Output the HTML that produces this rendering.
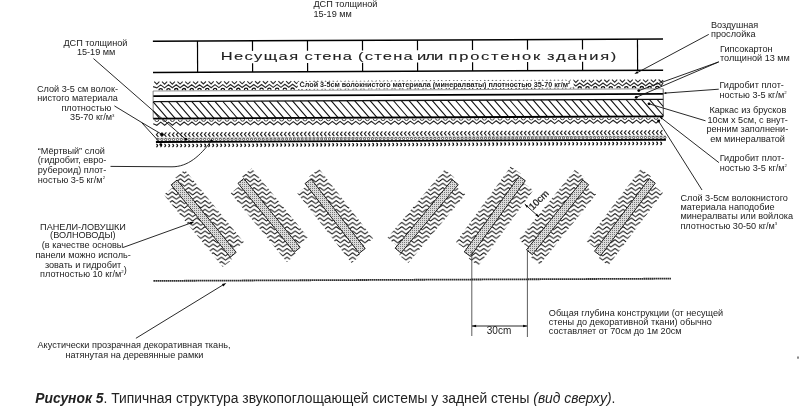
<!DOCTYPE html>
<html><head><meta charset="utf-8"><style>
html,body{margin:0;padding:0;background:#fff}
body{width:800px;height:407px;overflow:hidden}
svg{display:block;will-change:transform}
text{font-family:"Liberation Sans",sans-serif;fill:#222}
</style></head><body>
<svg width="800" height="407" viewBox="0 0 800 407">
<defs>
<pattern id="wave" patternUnits="userSpaceOnUse" x="0" y="0" width="8.2" height="4.35">
<path d="M-4.1 3.6L-0.25 0.7Q0 0.5 0.25 0.7L3.85 3.4Q4.1 3.6 4.35 3.4L7.95 0.7Q8.2 0.5 8.45 0.7L12.3 3.6" fill="none" stroke="#000" stroke-width="1.0"/>
</pattern>
<pattern id="dots" patternUnits="userSpaceOnUse" x="0" y="0" width="2" height="2">
<rect width="2" height="2" fill="#dcdcdc"/><rect width="1" height="1" fill="#777"/>
</pattern>
</defs>
<g transform="rotate(-0.25 408 160)"><line x1="153.4" y1="40.2" x2="663.5" y2="40.2" stroke="#000" stroke-width="1.5"/><line x1="153.4" y1="71.3" x2="663.5" y2="71.3" stroke="#000" stroke-width="1.5"/><line x1="198" y1="40.2" x2="198" y2="71.3" stroke="#000" stroke-width="1.2"/><path d="M253 40.2V50.2M253 62.6V71.3" stroke="#000" stroke-width="1.2"/><path d="M308 40.2V50.2M308 62.6V71.3" stroke="#000" stroke-width="1.2"/><path d="M363 40.2V50.2M363 62.6V71.3" stroke="#000" stroke-width="1.2"/><path d="M418 40.2V50.2M418 62.6V71.3" stroke="#000" stroke-width="1.2"/><path d="M473 40.2V50.2M473 62.6V71.3" stroke="#000" stroke-width="1.2"/><path d="M528 40.2V50.2M528 62.6V71.3" stroke="#000" stroke-width="1.2"/><path d="M583 40.2V50.2M583 62.6V71.3" stroke="#000" stroke-width="1.2"/><line x1="638" y1="40.2" x2="638" y2="71.3" stroke="#000" stroke-width="1.2"/><path d="M154.54 80.6L157.14 83.1L159.74 80.6M162.3 80.6L164.9 83.1L167.5 80.6M170.06 80.6L172.66 83.1L175.26 80.6M177.82 80.6L180.42 83.1L183.02 80.6M185.58 80.6L188.18 83.1L190.78 80.6M193.34 80.6L195.94 83.1L198.54 80.6M201.1 80.6L203.7 83.1L206.3 80.6M208.86 80.6L211.46 83.1L214.06 80.6M216.62 80.6L219.22 83.1L221.82 80.6M224.38 80.6L226.98 83.1L229.58 80.6M232.14 80.6L234.74 83.1L237.34 80.6M239.9 80.6L242.5 83.1L245.1 80.6M247.66 80.6L250.26 83.1L252.86 80.6M255.42 80.6L258.02 83.1L260.62 80.6M263.18 80.6L265.78 83.1L268.38 80.6M270.94 80.6L273.54 83.1L276.14 80.6M278.7 80.6L281.3 83.1L283.9 80.6M286.46 80.6L289.06 83.1L291.66 80.6M294.22 80.6L296.82 83.1L299.42 80.6M301.98 80.6L304.58 83.1L307.18 80.6M309.74 80.6L312.34 83.1L314.94 80.6M317.5 80.6L320.1 83.1L322.7 80.6M325.26 80.6L327.86 83.1L330.46 80.6M333.02 80.6L335.62 83.1L338.22 80.6M340.78 80.6L343.38 83.1L345.98 80.6M348.54 80.6L351.14 83.1L353.74 80.6M356.3 80.6L358.9 83.1L361.5 80.6M364.06 80.6L366.66 83.1L369.26 80.6M371.82 80.6L374.42 83.1L377.02 80.6M379.58 80.6L382.18 83.1L384.78 80.6M387.34 80.6L389.94 83.1L392.54 80.6M395.1 80.6L397.7 83.1L400.3 80.6M402.86 80.6L405.46 83.1L408.06 80.6M410.62 80.6L413.22 83.1L415.82 80.6M418.38 80.6L420.98 83.1L423.58 80.6M426.14 80.6L428.74 83.1L431.34 80.6M433.9 80.6L436.5 83.1L439.1 80.6M441.66 80.6L444.26 83.1L446.86 80.6M449.42 80.6L452.02 83.1L454.62 80.6M457.18 80.6L459.78 83.1L462.38 80.6M464.94 80.6L467.54 83.1L470.14 80.6M472.7 80.6L475.3 83.1L477.9 80.6M480.46 80.6L483.06 83.1L485.66 80.6M488.22 80.6L490.82 83.1L493.42 80.6M495.98 80.6L498.58 83.1L501.18 80.6M503.74 80.6L506.34 83.1L508.94 80.6M511.5 80.6L514.1 83.1L516.7 80.6M519.26 80.6L521.86 83.1L524.46 80.6M527.02 80.6L529.62 83.1L532.22 80.6M534.78 80.6L537.38 83.1L539.98 80.6M542.54 80.6L545.14 83.1L547.74 80.6M550.3 80.6L552.9 83.1L555.5 80.6M558.06 80.6L560.66 83.1L563.26 80.6M565.82 80.6L568.42 83.1L571.02 80.6M573.58 80.6L576.18 83.1L578.78 80.6M581.34 80.6L583.94 83.1L586.54 80.6M589.1 80.6L591.7 83.1L594.3 80.6M596.86 80.6L599.46 83.1L602.06 80.6M604.62 80.6L607.22 83.1L609.82 80.6M612.38 80.6L614.98 83.1L617.58 80.6M620.14 80.6L622.74 83.1L625.34 80.6M627.9 80.6L630.5 83.1L633.1 80.6M635.66 80.6L638.26 83.1L640.86 80.6M643.42 80.6L646.02 83.1L648.62 80.6M651.18 80.6L653.78 83.1L656.38 80.6M658.94 80.6L661.54 83.1L663.5 81.22" fill="none" stroke="#2a2a2a" stroke-width="1.1"/><polyline points="153.4,85.5 157.14,86.8 161.02,83.8 164.9,86.8 168.78,83.8 172.66,86.8 176.54,83.8 180.42,86.8 184.3,83.8 188.18,86.8 192.06,83.8 195.94,86.8 199.82,83.8 203.7,86.8 207.58,83.8 211.46,86.8 215.34,83.8 219.22,86.8 223.1,83.8 226.98,86.8 230.86,83.8 234.74,86.8 238.62,83.8 242.5,86.8 246.38,83.8 250.26,86.8 254.14,83.8 258.02,86.8 261.9,83.8 265.78,86.8 269.66,83.8 273.54,86.8 277.42,83.8 281.3,86.8 285.18,83.8 289.06,86.8 292.94,83.8 296.82,86.8 300.7,83.8 304.58,86.8 308.46,83.8 312.34,86.8 316.22,83.8 320.1,86.8 323.98,83.8 327.86,86.8 331.74,83.8 335.62,86.8 339.5,83.8 343.38,86.8 347.26,83.8 351.14,86.8 355.02,83.8 358.9,86.8 362.78,83.8 366.66,86.8 370.54,83.8 374.42,86.8 378.3,83.8 382.18,86.8 386.06,83.8 389.94,86.8 393.82,83.8 397.7,86.8 401.58,83.8 405.46,86.8 409.34,83.8 413.22,86.8 417.1,83.8 420.98,86.8 424.86,83.8 428.74,86.8 432.62,83.8 436.5,86.8 440.38,83.8 444.26,86.8 448.14,83.8 452.02,86.8 455.9,83.8 459.78,86.8 463.66,83.8 467.54,86.8 471.42,83.8 475.3,86.8 479.18,83.8 483.06,86.8 486.94,83.8 490.82,86.8 494.7,83.8 498.58,86.8 502.46,83.8 506.34,86.8 510.22,83.8 514.1,86.8 517.98,83.8 521.86,86.8 525.74,83.8 529.62,86.8 533.5,83.8 537.38,86.8 541.26,83.8 545.14,86.8 549.02,83.8 552.9,86.8 556.78,83.8 560.66,86.8 564.54,83.8 568.42,86.8 572.3,83.8 576.18,86.8 580.06,83.8 583.94,86.8 587.82,83.8 591.7,86.8 595.58,83.8 599.46,86.8 603.34,83.8 607.22,86.8 611.1,83.8 614.98,86.8 618.86,83.8 622.74,86.8 626.62,83.8 630.5,86.8 634.38,83.8 638.26,86.8 642.14,83.8 646.02,86.8 649.9,83.8 653.78,86.8 657.66,83.8 661.54,86.8 663.5,83.8" fill="none" stroke="#2a2a2a" stroke-width="1.15"/><path d="M159.32 89.2A1.7 1.7 0 0 1 162.72 89.2M167.08 89.2A1.7 1.7 0 0 1 170.48 89.2M174.84 89.2A1.7 1.7 0 0 1 178.24 89.2M182.6 89.2A1.7 1.7 0 0 1 186 89.2M190.36 89.2A1.7 1.7 0 0 1 193.76 89.2M198.12 89.2A1.7 1.7 0 0 1 201.52 89.2M205.88 89.2A1.7 1.7 0 0 1 209.28 89.2M213.64 89.2A1.7 1.7 0 0 1 217.04 89.2M221.4 89.2A1.7 1.7 0 0 1 224.8 89.2M229.16 89.2A1.7 1.7 0 0 1 232.56 89.2M236.92 89.2A1.7 1.7 0 0 1 240.32 89.2M244.68 89.2A1.7 1.7 0 0 1 248.08 89.2M252.44 89.2A1.7 1.7 0 0 1 255.84 89.2M260.2 89.2A1.7 1.7 0 0 1 263.6 89.2M267.96 89.2A1.7 1.7 0 0 1 271.36 89.2M275.72 89.2A1.7 1.7 0 0 1 279.12 89.2M283.48 89.2A1.7 1.7 0 0 1 286.88 89.2M291.24 89.2A1.7 1.7 0 0 1 294.64 89.2M299 89.2A1.7 1.7 0 0 1 302.4 89.2M306.76 89.2A1.7 1.7 0 0 1 310.16 89.2M314.52 89.2A1.7 1.7 0 0 1 317.92 89.2M322.28 89.2A1.7 1.7 0 0 1 325.68 89.2M330.04 89.2A1.7 1.7 0 0 1 333.44 89.2M337.8 89.2A1.7 1.7 0 0 1 341.2 89.2M345.56 89.2A1.7 1.7 0 0 1 348.96 89.2M353.32 89.2A1.7 1.7 0 0 1 356.72 89.2M361.08 89.2A1.7 1.7 0 0 1 364.48 89.2M368.84 89.2A1.7 1.7 0 0 1 372.24 89.2M376.6 89.2A1.7 1.7 0 0 1 380 89.2M384.36 89.2A1.7 1.7 0 0 1 387.76 89.2M392.12 89.2A1.7 1.7 0 0 1 395.52 89.2M399.88 89.2A1.7 1.7 0 0 1 403.28 89.2M407.64 89.2A1.7 1.7 0 0 1 411.04 89.2M415.4 89.2A1.7 1.7 0 0 1 418.8 89.2M423.16 89.2A1.7 1.7 0 0 1 426.56 89.2M430.92 89.2A1.7 1.7 0 0 1 434.32 89.2M438.68 89.2A1.7 1.7 0 0 1 442.08 89.2M446.44 89.2A1.7 1.7 0 0 1 449.84 89.2M454.2 89.2A1.7 1.7 0 0 1 457.6 89.2M461.96 89.2A1.7 1.7 0 0 1 465.36 89.2M469.72 89.2A1.7 1.7 0 0 1 473.12 89.2M477.48 89.2A1.7 1.7 0 0 1 480.88 89.2M485.24 89.2A1.7 1.7 0 0 1 488.64 89.2M493 89.2A1.7 1.7 0 0 1 496.4 89.2M500.76 89.2A1.7 1.7 0 0 1 504.16 89.2M508.52 89.2A1.7 1.7 0 0 1 511.92 89.2M516.28 89.2A1.7 1.7 0 0 1 519.68 89.2M524.04 89.2A1.7 1.7 0 0 1 527.44 89.2M531.8 89.2A1.7 1.7 0 0 1 535.2 89.2M539.56 89.2A1.7 1.7 0 0 1 542.96 89.2M547.32 89.2A1.7 1.7 0 0 1 550.72 89.2M555.08 89.2A1.7 1.7 0 0 1 558.48 89.2M562.84 89.2A1.7 1.7 0 0 1 566.24 89.2M570.6 89.2A1.7 1.7 0 0 1 574 89.2M578.36 89.2A1.7 1.7 0 0 1 581.76 89.2M586.12 89.2A1.7 1.7 0 0 1 589.52 89.2M593.88 89.2A1.7 1.7 0 0 1 597.28 89.2M601.64 89.2A1.7 1.7 0 0 1 605.04 89.2M609.4 89.2A1.7 1.7 0 0 1 612.8 89.2M617.16 89.2A1.7 1.7 0 0 1 620.56 89.2M624.92 89.2A1.7 1.7 0 0 1 628.32 89.2M632.68 89.2A1.7 1.7 0 0 1 636.08 89.2M640.44 89.2A1.7 1.7 0 0 1 643.84 89.2M648.2 89.2A1.7 1.7 0 0 1 651.6 89.2M655.96 89.2A1.7 1.7 0 0 1 659.36 89.2" fill="none" stroke="#111" stroke-width="1.3"/><line x1="153.4" y1="89.9" x2="663.5" y2="89.9" stroke="#777" stroke-width="0.8"/><line x1="153.4" y1="95.0" x2="663.5" y2="95.0" stroke="#000" stroke-width="1.7"/><line x1="153.4" y1="100.45" x2="663.5" y2="100.45" stroke="#111" stroke-width="1.35"/><line x1="663.5" y1="89.9" x2="663.5" y2="117.5" stroke="#444" stroke-width="0.9"/><line x1="153.4" y1="89.9" x2="153.4" y2="117.5" stroke="#666" stroke-width="0.8"/><path d="M153.4 109.78L160.06 117.5M153.4 100.78L167.82 117.5M160.87 100.45L175.57 117.5M168.63 100.45L183.33 117.5M176.39 100.45L191.09 117.5M184.15 100.45L198.85 117.5M191.9 100.45L206.6 117.5M199.66 100.45L214.36 117.5M207.42 100.45L222.12 117.5M215.17 100.45L229.87 117.5M222.93 100.45L237.63 117.5M230.69 100.45L245.39 117.5M238.44 100.45L253.14 117.5M246.2 100.45L260.9 117.5M253.96 100.45L268.66 117.5M261.72 100.45L276.42 117.5M269.47 100.45L284.17 117.5M277.23 100.45L291.93 117.5M284.99 100.45L299.69 117.5M292.74 100.45L307.44 117.5M300.5 100.45L315.2 117.5M308.26 100.45L322.96 117.5M316.01 100.45L330.71 117.5M323.77 100.45L338.47 117.5M331.53 100.45L346.23 117.5M339.29 100.45L353.99 117.5M347.04 100.45L361.74 117.5M354.8 100.45L369.5 117.5M362.56 100.45L377.26 117.5M370.31 100.45L385.01 117.5M378.07 100.45L392.77 117.5M385.83 100.45L400.53 117.5M393.58 100.45L408.28 117.5M401.34 100.45L416.04 117.5M409.1 100.45L423.8 117.5M416.86 100.45L431.56 117.5M424.61 100.45L439.31 117.5M432.37 100.45L447.07 117.5M440.13 100.45L454.83 117.5M447.88 100.45L462.58 117.5M455.64 100.45L470.34 117.5M463.4 100.45L478.1 117.5M471.15 100.45L485.85 117.5M478.91 100.45L493.61 117.5M486.67 100.45L501.37 117.5M494.43 100.45L509.13 117.5M502.18 100.45L516.88 117.5M509.94 100.45L524.64 117.5M517.7 100.45L532.4 117.5M525.45 100.45L540.15 117.5M533.21 100.45L547.91 117.5M540.97 100.45L555.67 117.5M548.72 100.45L563.42 117.5M556.48 100.45L571.18 117.5M564.24 100.45L578.94 117.5M571.99 100.45L586.69 117.5M579.75 100.45L594.45 117.5M587.51 100.45L602.21 117.5M595.27 100.45L609.97 117.5M603.02 100.45L617.72 117.5M610.78 100.45L625.48 117.5M618.54 100.45L633.24 117.5M626.29 100.45L640.99 117.5M634.05 100.45L648.75 117.5M641.81 100.45L656.51 117.5M649.56 100.45L663.5 116.61M657.32 100.45L663.5 107.62" stroke="#111" stroke-width="1.1"/><line x1="153.4" y1="117.5" x2="663.5" y2="117.5" stroke="#000" stroke-width="1.9"/><path d="M155 118.5A2 2 0 0 0 159 118.5M162.8 118.5A2 2 0 0 0 166.8 118.5M170.6 118.5A2 2 0 0 0 174.6 118.5M178.4 118.5A2 2 0 0 0 182.4 118.5M186.2 118.5A2 2 0 0 0 190.2 118.5M194 118.5A2 2 0 0 0 198 118.5M201.8 118.5A2 2 0 0 0 205.8 118.5M209.6 118.5A2 2 0 0 0 213.6 118.5M217.4 118.5A2 2 0 0 0 221.4 118.5M225.2 118.5A2 2 0 0 0 229.2 118.5M233 118.5A2 2 0 0 0 237 118.5M240.8 118.5A2 2 0 0 0 244.8 118.5M248.6 118.5A2 2 0 0 0 252.6 118.5M256.4 118.5A2 2 0 0 0 260.4 118.5M264.2 118.5A2 2 0 0 0 268.2 118.5M272 118.5A2 2 0 0 0 276 118.5M279.8 118.5A2 2 0 0 0 283.8 118.5M287.6 118.5A2 2 0 0 0 291.6 118.5M295.4 118.5A2 2 0 0 0 299.4 118.5M303.2 118.5A2 2 0 0 0 307.2 118.5M311 118.5A2 2 0 0 0 315 118.5M318.8 118.5A2 2 0 0 0 322.8 118.5M326.6 118.5A2 2 0 0 0 330.6 118.5M334.4 118.5A2 2 0 0 0 338.4 118.5M342.2 118.5A2 2 0 0 0 346.2 118.5M350 118.5A2 2 0 0 0 354 118.5M357.8 118.5A2 2 0 0 0 361.8 118.5M365.6 118.5A2 2 0 0 0 369.6 118.5M373.4 118.5A2 2 0 0 0 377.4 118.5M381.2 118.5A2 2 0 0 0 385.2 118.5M389 118.5A2 2 0 0 0 393 118.5M396.8 118.5A2 2 0 0 0 400.8 118.5M404.6 118.5A2 2 0 0 0 408.6 118.5M412.4 118.5A2 2 0 0 0 416.4 118.5M420.2 118.5A2 2 0 0 0 424.2 118.5M428 118.5A2 2 0 0 0 432 118.5M435.8 118.5A2 2 0 0 0 439.8 118.5M443.6 118.5A2 2 0 0 0 447.6 118.5M451.4 118.5A2 2 0 0 0 455.4 118.5M459.2 118.5A2 2 0 0 0 463.2 118.5M467 118.5A2 2 0 0 0 471 118.5M474.8 118.5A2 2 0 0 0 478.8 118.5M482.6 118.5A2 2 0 0 0 486.6 118.5M490.4 118.5A2 2 0 0 0 494.4 118.5M498.2 118.5A2 2 0 0 0 502.2 118.5M506 118.5A2 2 0 0 0 510 118.5M513.8 118.5A2 2 0 0 0 517.8 118.5M521.6 118.5A2 2 0 0 0 525.6 118.5M529.4 118.5A2 2 0 0 0 533.4 118.5M537.2 118.5A2 2 0 0 0 541.2 118.5M545 118.5A2 2 0 0 0 549 118.5M552.8 118.5A2 2 0 0 0 556.8 118.5M560.6 118.5A2 2 0 0 0 564.6 118.5M568.4 118.5A2 2 0 0 0 572.4 118.5M576.2 118.5A2 2 0 0 0 580.2 118.5M584 118.5A2 2 0 0 0 588 118.5M591.8 118.5A2 2 0 0 0 595.8 118.5M599.6 118.5A2 2 0 0 0 603.6 118.5M607.4 118.5A2 2 0 0 0 611.4 118.5M615.2 118.5A2 2 0 0 0 619.2 118.5M623 118.5A2 2 0 0 0 627 118.5M630.8 118.5A2 2 0 0 0 634.8 118.5M638.6 118.5A2 2 0 0 0 642.6 118.5M646.4 118.5A2 2 0 0 0 650.4 118.5M654.2 118.5A2 2 0 0 0 658.2 118.5" fill="none" stroke="#333" stroke-width="0.9"/><polyline points="153.4,122.7 157,124.2 160.9,121.1 164.8,124.2 168.7,121.1 172.6,124.2 176.5,121.1 180.4,124.2 184.3,121.1 188.2,124.2 192.1,121.1 196,124.2 199.9,121.1 203.8,124.2 207.7,121.1 211.6,124.2 215.5,121.1 219.4,124.2 223.3,121.1 227.2,124.2 231.1,121.1 235,124.2 238.9,121.1 242.8,124.2 246.7,121.1 250.6,124.2 254.5,121.1 258.4,124.2 262.3,121.1 266.2,124.2 270.1,121.1 274,124.2 277.9,121.1 281.8,124.2 285.7,121.1 289.6,124.2 293.5,121.1 297.4,124.2 301.3,121.1 305.2,124.2 309.1,121.1 313,124.2 316.9,121.1 320.8,124.2 324.7,121.1 328.6,124.2 332.5,121.1 336.4,124.2 340.3,121.1 344.2,124.2 348.1,121.1 352,124.2 355.9,121.1 359.8,124.2 363.7,121.1 367.6,124.2 371.5,121.1 375.4,124.2 379.3,121.1 383.2,124.2 387.1,121.1 391,124.2 394.9,121.1 398.8,124.2 402.7,121.1 406.6,124.2 410.5,121.1 414.4,124.2 418.3,121.1 422.2,124.2 426.1,121.1 430,124.2 433.9,121.1 437.8,124.2 441.7,121.1 445.6,124.2 449.5,121.1 453.4,124.2 457.3,121.1 461.2,124.2 465.1,121.1 469,124.2 472.9,121.1 476.8,124.2 480.7,121.1 484.6,124.2 488.5,121.1 492.4,124.2 496.3,121.1 500.2,124.2 504.1,121.1 508,124.2 511.9,121.1 515.8,124.2 519.7,121.1 523.6,124.2 527.5,121.1 531.4,124.2 535.3,121.1 539.2,124.2 543.1,121.1 547,124.2 550.9,121.1 554.8,124.2 558.7,121.1 562.6,124.2 566.5,121.1 570.4,124.2 574.3,121.1 578.2,124.2 582.1,121.1 586,124.2 589.9,121.1 593.8,124.2 597.7,121.1 601.6,124.2 605.5,121.1 609.4,124.2 613.3,121.1 617.2,124.2 621.1,121.1 625,124.2 628.9,121.1 632.8,124.2 636.7,121.1 640.6,124.2 644.5,121.1 648.4,124.2 652.3,121.1 656.2,124.2 660.1,121.1" fill="none" stroke="#222" stroke-width="1.1"/><path d="M158.5 131.3L156.5 133.6L158.5 135.9M162.5 131.3L160.5 133.6L162.5 135.9M166.5 131.3L164.5 133.6L166.5 135.9M170.5 131.3L168.5 133.6L170.5 135.9M174.5 131.3L172.5 133.6L174.5 135.9M178.5 131.3L176.5 133.6L178.5 135.9M182.5 131.3L180.5 133.6L182.5 135.9M186.5 131.3L184.5 133.6L186.5 135.9M190.5 131.3L188.5 133.6L190.5 135.9M194.5 131.3L192.5 133.6L194.5 135.9M198.5 131.3L196.5 133.6L198.5 135.9M202.5 131.3L200.5 133.6L202.5 135.9M206.5 131.3L204.5 133.6L206.5 135.9M210.5 131.3L208.5 133.6L210.5 135.9M214.5 131.3L212.5 133.6L214.5 135.9M218.5 131.3L216.5 133.6L218.5 135.9M222.5 131.3L220.5 133.6L222.5 135.9M226.5 131.3L224.5 133.6L226.5 135.9M230.5 131.3L228.5 133.6L230.5 135.9M234.5 131.3L232.5 133.6L234.5 135.9M238.5 131.3L236.5 133.6L238.5 135.9M242.5 131.3L240.5 133.6L242.5 135.9M246.5 131.3L244.5 133.6L246.5 135.9M250.5 131.3L248.5 133.6L250.5 135.9M254.5 131.3L252.5 133.6L254.5 135.9M258.5 131.3L256.5 133.6L258.5 135.9M262.5 131.3L260.5 133.6L262.5 135.9M266.5 131.3L264.5 133.6L266.5 135.9M270.5 131.3L268.5 133.6L270.5 135.9M274.5 131.3L272.5 133.6L274.5 135.9M278.5 131.3L276.5 133.6L278.5 135.9M282.5 131.3L280.5 133.6L282.5 135.9M286.5 131.3L284.5 133.6L286.5 135.9M290.5 131.3L288.5 133.6L290.5 135.9M294.5 131.3L292.5 133.6L294.5 135.9M298.5 131.3L296.5 133.6L298.5 135.9M302.5 131.3L300.5 133.6L302.5 135.9M306.5 131.3L304.5 133.6L306.5 135.9M310.5 131.3L308.5 133.6L310.5 135.9M314.5 131.3L312.5 133.6L314.5 135.9M318.5 131.3L316.5 133.6L318.5 135.9M322.5 131.3L320.5 133.6L322.5 135.9M326.5 131.3L324.5 133.6L326.5 135.9M330.5 131.3L328.5 133.6L330.5 135.9M334.5 131.3L332.5 133.6L334.5 135.9M338.5 131.3L336.5 133.6L338.5 135.9M342.5 131.3L340.5 133.6L342.5 135.9M346.5 131.3L344.5 133.6L346.5 135.9M350.5 131.3L348.5 133.6L350.5 135.9M354.5 131.3L352.5 133.6L354.5 135.9M358.5 131.3L356.5 133.6L358.5 135.9M362.5 131.3L360.5 133.6L362.5 135.9M366.5 131.3L364.5 133.6L366.5 135.9M370.5 131.3L368.5 133.6L370.5 135.9M374.5 131.3L372.5 133.6L374.5 135.9M378.5 131.3L376.5 133.6L378.5 135.9M382.5 131.3L380.5 133.6L382.5 135.9M386.5 131.3L384.5 133.6L386.5 135.9M390.5 131.3L388.5 133.6L390.5 135.9M394.5 131.3L392.5 133.6L394.5 135.9M398.5 131.3L396.5 133.6L398.5 135.9M402.5 131.3L400.5 133.6L402.5 135.9M406.5 131.3L404.5 133.6L406.5 135.9M410.5 131.3L408.5 133.6L410.5 135.9M414.5 131.3L412.5 133.6L414.5 135.9M418.5 131.3L416.5 133.6L418.5 135.9M422.5 131.3L420.5 133.6L422.5 135.9M426.5 131.3L424.5 133.6L426.5 135.9M430.5 131.3L428.5 133.6L430.5 135.9M434.5 131.3L432.5 133.6L434.5 135.9M438.5 131.3L436.5 133.6L438.5 135.9M442.5 131.3L440.5 133.6L442.5 135.9M446.5 131.3L444.5 133.6L446.5 135.9M450.5 131.3L448.5 133.6L450.5 135.9M454.5 131.3L452.5 133.6L454.5 135.9M458.5 131.3L456.5 133.6L458.5 135.9M462.5 131.3L460.5 133.6L462.5 135.9M466.5 131.3L464.5 133.6L466.5 135.9M470.5 131.3L468.5 133.6L470.5 135.9M474.5 131.3L472.5 133.6L474.5 135.9M478.5 131.3L476.5 133.6L478.5 135.9M482.5 131.3L480.5 133.6L482.5 135.9M486.5 131.3L484.5 133.6L486.5 135.9M490.5 131.3L488.5 133.6L490.5 135.9M494.5 131.3L492.5 133.6L494.5 135.9M498.5 131.3L496.5 133.6L498.5 135.9M502.5 131.3L500.5 133.6L502.5 135.9M506.5 131.3L504.5 133.6L506.5 135.9M510.5 131.3L508.5 133.6L510.5 135.9M514.5 131.3L512.5 133.6L514.5 135.9M518.5 131.3L516.5 133.6L518.5 135.9M522.5 131.3L520.5 133.6L522.5 135.9M526.5 131.3L524.5 133.6L526.5 135.9M530.5 131.3L528.5 133.6L530.5 135.9M534.5 131.3L532.5 133.6L534.5 135.9M538.5 131.3L536.5 133.6L538.5 135.9M542.5 131.3L540.5 133.6L542.5 135.9M546.5 131.3L544.5 133.6L546.5 135.9M550.5 131.3L548.5 133.6L550.5 135.9M554.5 131.3L552.5 133.6L554.5 135.9M558.5 131.3L556.5 133.6L558.5 135.9M562.5 131.3L560.5 133.6L562.5 135.9M566.5 131.3L564.5 133.6L566.5 135.9M570.5 131.3L568.5 133.6L570.5 135.9M574.5 131.3L572.5 133.6L574.5 135.9M578.5 131.3L576.5 133.6L578.5 135.9M582.5 131.3L580.5 133.6L582.5 135.9M586.5 131.3L584.5 133.6L586.5 135.9M590.5 131.3L588.5 133.6L590.5 135.9M594.5 131.3L592.5 133.6L594.5 135.9M598.5 131.3L596.5 133.6L598.5 135.9M602.5 131.3L600.5 133.6L602.5 135.9M606.5 131.3L604.5 133.6L606.5 135.9M610.5 131.3L608.5 133.6L610.5 135.9M614.5 131.3L612.5 133.6L614.5 135.9M618.5 131.3L616.5 133.6L618.5 135.9M622.5 131.3L620.5 133.6L622.5 135.9M626.5 131.3L624.5 133.6L626.5 135.9M630.5 131.3L628.5 133.6L630.5 135.9M634.5 131.3L632.5 133.6L634.5 135.9M638.5 131.3L636.5 133.6L638.5 135.9M642.5 131.3L640.5 133.6L642.5 135.9M646.5 131.3L644.5 133.6L646.5 135.9M650.5 131.3L648.5 133.6L650.5 135.9M654.5 131.3L652.5 133.6L654.5 135.9M658.5 131.3L656.5 133.6L658.5 135.9M662.5 131.3L660.5 133.6L662.5 135.9" fill="none" stroke="#222" stroke-width="1.15"/><line x1="156.0" y1="137.2" x2="666.0" y2="137.2" stroke="#777" stroke-width="0.6"/><path d="M156.9 138.6a1.1 1.1 0 1 0 2.2 0a1.1 1.1 0 1 0 -2.2 0M160.8 138.6a1.1 1.1 0 1 0 2.2 0a1.1 1.1 0 1 0 -2.2 0M164.7 138.6a1.1 1.1 0 1 0 2.2 0a1.1 1.1 0 1 0 -2.2 0M168.6 138.6a1.1 1.1 0 1 0 2.2 0a1.1 1.1 0 1 0 -2.2 0M172.5 138.6a1.1 1.1 0 1 0 2.2 0a1.1 1.1 0 1 0 -2.2 0M176.4 138.6a1.1 1.1 0 1 0 2.2 0a1.1 1.1 0 1 0 -2.2 0M180.3 138.6a1.1 1.1 0 1 0 2.2 0a1.1 1.1 0 1 0 -2.2 0M184.2 138.6a1.1 1.1 0 1 0 2.2 0a1.1 1.1 0 1 0 -2.2 0M188.1 138.6a1.1 1.1 0 1 0 2.2 0a1.1 1.1 0 1 0 -2.2 0M192 138.6a1.1 1.1 0 1 0 2.2 0a1.1 1.1 0 1 0 -2.2 0M195.9 138.6a1.1 1.1 0 1 0 2.2 0a1.1 1.1 0 1 0 -2.2 0M199.8 138.6a1.1 1.1 0 1 0 2.2 0a1.1 1.1 0 1 0 -2.2 0M203.7 138.6a1.1 1.1 0 1 0 2.2 0a1.1 1.1 0 1 0 -2.2 0M207.6 138.6a1.1 1.1 0 1 0 2.2 0a1.1 1.1 0 1 0 -2.2 0M211.5 138.6a1.1 1.1 0 1 0 2.2 0a1.1 1.1 0 1 0 -2.2 0M215.4 138.6a1.1 1.1 0 1 0 2.2 0a1.1 1.1 0 1 0 -2.2 0M219.3 138.6a1.1 1.1 0 1 0 2.2 0a1.1 1.1 0 1 0 -2.2 0M223.2 138.6a1.1 1.1 0 1 0 2.2 0a1.1 1.1 0 1 0 -2.2 0M227.1 138.6a1.1 1.1 0 1 0 2.2 0a1.1 1.1 0 1 0 -2.2 0M231 138.6a1.1 1.1 0 1 0 2.2 0a1.1 1.1 0 1 0 -2.2 0M234.9 138.6a1.1 1.1 0 1 0 2.2 0a1.1 1.1 0 1 0 -2.2 0M238.8 138.6a1.1 1.1 0 1 0 2.2 0a1.1 1.1 0 1 0 -2.2 0M242.7 138.6a1.1 1.1 0 1 0 2.2 0a1.1 1.1 0 1 0 -2.2 0M246.6 138.6a1.1 1.1 0 1 0 2.2 0a1.1 1.1 0 1 0 -2.2 0M250.5 138.6a1.1 1.1 0 1 0 2.2 0a1.1 1.1 0 1 0 -2.2 0M254.4 138.6a1.1 1.1 0 1 0 2.2 0a1.1 1.1 0 1 0 -2.2 0M258.3 138.6a1.1 1.1 0 1 0 2.2 0a1.1 1.1 0 1 0 -2.2 0M262.2 138.6a1.1 1.1 0 1 0 2.2 0a1.1 1.1 0 1 0 -2.2 0M266.1 138.6a1.1 1.1 0 1 0 2.2 0a1.1 1.1 0 1 0 -2.2 0M270 138.6a1.1 1.1 0 1 0 2.2 0a1.1 1.1 0 1 0 -2.2 0M273.9 138.6a1.1 1.1 0 1 0 2.2 0a1.1 1.1 0 1 0 -2.2 0M277.8 138.6a1.1 1.1 0 1 0 2.2 0a1.1 1.1 0 1 0 -2.2 0M281.7 138.6a1.1 1.1 0 1 0 2.2 0a1.1 1.1 0 1 0 -2.2 0M285.6 138.6a1.1 1.1 0 1 0 2.2 0a1.1 1.1 0 1 0 -2.2 0M289.5 138.6a1.1 1.1 0 1 0 2.2 0a1.1 1.1 0 1 0 -2.2 0M293.4 138.6a1.1 1.1 0 1 0 2.2 0a1.1 1.1 0 1 0 -2.2 0M297.3 138.6a1.1 1.1 0 1 0 2.2 0a1.1 1.1 0 1 0 -2.2 0M301.2 138.6a1.1 1.1 0 1 0 2.2 0a1.1 1.1 0 1 0 -2.2 0M305.1 138.6a1.1 1.1 0 1 0 2.2 0a1.1 1.1 0 1 0 -2.2 0M309 138.6a1.1 1.1 0 1 0 2.2 0a1.1 1.1 0 1 0 -2.2 0M312.9 138.6a1.1 1.1 0 1 0 2.2 0a1.1 1.1 0 1 0 -2.2 0M316.8 138.6a1.1 1.1 0 1 0 2.2 0a1.1 1.1 0 1 0 -2.2 0M320.7 138.6a1.1 1.1 0 1 0 2.2 0a1.1 1.1 0 1 0 -2.2 0M324.6 138.6a1.1 1.1 0 1 0 2.2 0a1.1 1.1 0 1 0 -2.2 0M328.5 138.6a1.1 1.1 0 1 0 2.2 0a1.1 1.1 0 1 0 -2.2 0M332.4 138.6a1.1 1.1 0 1 0 2.2 0a1.1 1.1 0 1 0 -2.2 0M336.3 138.6a1.1 1.1 0 1 0 2.2 0a1.1 1.1 0 1 0 -2.2 0M340.2 138.6a1.1 1.1 0 1 0 2.2 0a1.1 1.1 0 1 0 -2.2 0M344.1 138.6a1.1 1.1 0 1 0 2.2 0a1.1 1.1 0 1 0 -2.2 0M348 138.6a1.1 1.1 0 1 0 2.2 0a1.1 1.1 0 1 0 -2.2 0M351.9 138.6a1.1 1.1 0 1 0 2.2 0a1.1 1.1 0 1 0 -2.2 0M355.8 138.6a1.1 1.1 0 1 0 2.2 0a1.1 1.1 0 1 0 -2.2 0M359.7 138.6a1.1 1.1 0 1 0 2.2 0a1.1 1.1 0 1 0 -2.2 0M363.6 138.6a1.1 1.1 0 1 0 2.2 0a1.1 1.1 0 1 0 -2.2 0M367.5 138.6a1.1 1.1 0 1 0 2.2 0a1.1 1.1 0 1 0 -2.2 0M371.4 138.6a1.1 1.1 0 1 0 2.2 0a1.1 1.1 0 1 0 -2.2 0M375.3 138.6a1.1 1.1 0 1 0 2.2 0a1.1 1.1 0 1 0 -2.2 0M379.2 138.6a1.1 1.1 0 1 0 2.2 0a1.1 1.1 0 1 0 -2.2 0M383.1 138.6a1.1 1.1 0 1 0 2.2 0a1.1 1.1 0 1 0 -2.2 0M387 138.6a1.1 1.1 0 1 0 2.2 0a1.1 1.1 0 1 0 -2.2 0M390.9 138.6a1.1 1.1 0 1 0 2.2 0a1.1 1.1 0 1 0 -2.2 0M394.8 138.6a1.1 1.1 0 1 0 2.2 0a1.1 1.1 0 1 0 -2.2 0M398.7 138.6a1.1 1.1 0 1 0 2.2 0a1.1 1.1 0 1 0 -2.2 0M402.6 138.6a1.1 1.1 0 1 0 2.2 0a1.1 1.1 0 1 0 -2.2 0M406.5 138.6a1.1 1.1 0 1 0 2.2 0a1.1 1.1 0 1 0 -2.2 0M410.4 138.6a1.1 1.1 0 1 0 2.2 0a1.1 1.1 0 1 0 -2.2 0M414.3 138.6a1.1 1.1 0 1 0 2.2 0a1.1 1.1 0 1 0 -2.2 0M418.2 138.6a1.1 1.1 0 1 0 2.2 0a1.1 1.1 0 1 0 -2.2 0M422.1 138.6a1.1 1.1 0 1 0 2.2 0a1.1 1.1 0 1 0 -2.2 0M426 138.6a1.1 1.1 0 1 0 2.2 0a1.1 1.1 0 1 0 -2.2 0M429.9 138.6a1.1 1.1 0 1 0 2.2 0a1.1 1.1 0 1 0 -2.2 0M433.8 138.6a1.1 1.1 0 1 0 2.2 0a1.1 1.1 0 1 0 -2.2 0M437.7 138.6a1.1 1.1 0 1 0 2.2 0a1.1 1.1 0 1 0 -2.2 0M441.6 138.6a1.1 1.1 0 1 0 2.2 0a1.1 1.1 0 1 0 -2.2 0M445.5 138.6a1.1 1.1 0 1 0 2.2 0a1.1 1.1 0 1 0 -2.2 0M449.4 138.6a1.1 1.1 0 1 0 2.2 0a1.1 1.1 0 1 0 -2.2 0M453.3 138.6a1.1 1.1 0 1 0 2.2 0a1.1 1.1 0 1 0 -2.2 0M457.2 138.6a1.1 1.1 0 1 0 2.2 0a1.1 1.1 0 1 0 -2.2 0M461.1 138.6a1.1 1.1 0 1 0 2.2 0a1.1 1.1 0 1 0 -2.2 0M465 138.6a1.1 1.1 0 1 0 2.2 0a1.1 1.1 0 1 0 -2.2 0M468.9 138.6a1.1 1.1 0 1 0 2.2 0a1.1 1.1 0 1 0 -2.2 0M472.8 138.6a1.1 1.1 0 1 0 2.2 0a1.1 1.1 0 1 0 -2.2 0M476.7 138.6a1.1 1.1 0 1 0 2.2 0a1.1 1.1 0 1 0 -2.2 0M480.6 138.6a1.1 1.1 0 1 0 2.2 0a1.1 1.1 0 1 0 -2.2 0M484.5 138.6a1.1 1.1 0 1 0 2.2 0a1.1 1.1 0 1 0 -2.2 0M488.4 138.6a1.1 1.1 0 1 0 2.2 0a1.1 1.1 0 1 0 -2.2 0M492.3 138.6a1.1 1.1 0 1 0 2.2 0a1.1 1.1 0 1 0 -2.2 0M496.2 138.6a1.1 1.1 0 1 0 2.2 0a1.1 1.1 0 1 0 -2.2 0M500.1 138.6a1.1 1.1 0 1 0 2.2 0a1.1 1.1 0 1 0 -2.2 0M504 138.6a1.1 1.1 0 1 0 2.2 0a1.1 1.1 0 1 0 -2.2 0M507.9 138.6a1.1 1.1 0 1 0 2.2 0a1.1 1.1 0 1 0 -2.2 0M511.8 138.6a1.1 1.1 0 1 0 2.2 0a1.1 1.1 0 1 0 -2.2 0M515.7 138.6a1.1 1.1 0 1 0 2.2 0a1.1 1.1 0 1 0 -2.2 0M519.6 138.6a1.1 1.1 0 1 0 2.2 0a1.1 1.1 0 1 0 -2.2 0M523.5 138.6a1.1 1.1 0 1 0 2.2 0a1.1 1.1 0 1 0 -2.2 0M527.4 138.6a1.1 1.1 0 1 0 2.2 0a1.1 1.1 0 1 0 -2.2 0M531.3 138.6a1.1 1.1 0 1 0 2.2 0a1.1 1.1 0 1 0 -2.2 0M535.2 138.6a1.1 1.1 0 1 0 2.2 0a1.1 1.1 0 1 0 -2.2 0M539.1 138.6a1.1 1.1 0 1 0 2.2 0a1.1 1.1 0 1 0 -2.2 0M543 138.6a1.1 1.1 0 1 0 2.2 0a1.1 1.1 0 1 0 -2.2 0M546.9 138.6a1.1 1.1 0 1 0 2.2 0a1.1 1.1 0 1 0 -2.2 0M550.8 138.6a1.1 1.1 0 1 0 2.2 0a1.1 1.1 0 1 0 -2.2 0M554.7 138.6a1.1 1.1 0 1 0 2.2 0a1.1 1.1 0 1 0 -2.2 0M558.6 138.6a1.1 1.1 0 1 0 2.2 0a1.1 1.1 0 1 0 -2.2 0M562.5 138.6a1.1 1.1 0 1 0 2.2 0a1.1 1.1 0 1 0 -2.2 0M566.4 138.6a1.1 1.1 0 1 0 2.2 0a1.1 1.1 0 1 0 -2.2 0M570.3 138.6a1.1 1.1 0 1 0 2.2 0a1.1 1.1 0 1 0 -2.2 0M574.2 138.6a1.1 1.1 0 1 0 2.2 0a1.1 1.1 0 1 0 -2.2 0M578.1 138.6a1.1 1.1 0 1 0 2.2 0a1.1 1.1 0 1 0 -2.2 0M582 138.6a1.1 1.1 0 1 0 2.2 0a1.1 1.1 0 1 0 -2.2 0M585.9 138.6a1.1 1.1 0 1 0 2.2 0a1.1 1.1 0 1 0 -2.2 0M589.8 138.6a1.1 1.1 0 1 0 2.2 0a1.1 1.1 0 1 0 -2.2 0M593.7 138.6a1.1 1.1 0 1 0 2.2 0a1.1 1.1 0 1 0 -2.2 0M597.6 138.6a1.1 1.1 0 1 0 2.2 0a1.1 1.1 0 1 0 -2.2 0M601.5 138.6a1.1 1.1 0 1 0 2.2 0a1.1 1.1 0 1 0 -2.2 0M605.4 138.6a1.1 1.1 0 1 0 2.2 0a1.1 1.1 0 1 0 -2.2 0M609.3 138.6a1.1 1.1 0 1 0 2.2 0a1.1 1.1 0 1 0 -2.2 0M613.2 138.6a1.1 1.1 0 1 0 2.2 0a1.1 1.1 0 1 0 -2.2 0M617.1 138.6a1.1 1.1 0 1 0 2.2 0a1.1 1.1 0 1 0 -2.2 0M621 138.6a1.1 1.1 0 1 0 2.2 0a1.1 1.1 0 1 0 -2.2 0M624.9 138.6a1.1 1.1 0 1 0 2.2 0a1.1 1.1 0 1 0 -2.2 0M628.8 138.6a1.1 1.1 0 1 0 2.2 0a1.1 1.1 0 1 0 -2.2 0M632.7 138.6a1.1 1.1 0 1 0 2.2 0a1.1 1.1 0 1 0 -2.2 0M636.6 138.6a1.1 1.1 0 1 0 2.2 0a1.1 1.1 0 1 0 -2.2 0M640.5 138.6a1.1 1.1 0 1 0 2.2 0a1.1 1.1 0 1 0 -2.2 0M644.4 138.6a1.1 1.1 0 1 0 2.2 0a1.1 1.1 0 1 0 -2.2 0M648.3 138.6a1.1 1.1 0 1 0 2.2 0a1.1 1.1 0 1 0 -2.2 0M652.2 138.6a1.1 1.1 0 1 0 2.2 0a1.1 1.1 0 1 0 -2.2 0M656.1 138.6a1.1 1.1 0 1 0 2.2 0a1.1 1.1 0 1 0 -2.2 0M660 138.6a1.1 1.1 0 1 0 2.2 0a1.1 1.1 0 1 0 -2.2 0M663.9 138.6a1.1 1.1 0 1 0 2.2 0a1.1 1.1 0 1 0 -2.2 0" fill="none" stroke="#333" stroke-width="0.8"/><line x1="156.0" y1="140.9" x2="666.0" y2="140.9" stroke="#000" stroke-width="1.8"/><path d="M156.5 143.0Q158.8 144.5 156.5 146.0M160.5 143.0Q162.8 144.5 160.5 146.0M164.5 143.0Q166.8 144.5 164.5 146.0M168.5 143.0Q170.8 144.5 168.5 146.0M172.5 143.0Q174.8 144.5 172.5 146.0M176.5 143.0Q178.8 144.5 176.5 146.0M180.5 143.0Q182.8 144.5 180.5 146.0M184.5 143.0Q186.8 144.5 184.5 146.0M188.5 143.0Q190.8 144.5 188.5 146.0M192.5 143.0Q194.8 144.5 192.5 146.0M196.5 143.0Q198.8 144.5 196.5 146.0M200.5 143.0Q202.8 144.5 200.5 146.0M204.5 143.0Q206.8 144.5 204.5 146.0M208.5 143.0Q210.8 144.5 208.5 146.0M212.5 143.0Q214.8 144.5 212.5 146.0M216.5 143.0Q218.8 144.5 216.5 146.0M220.5 143.0Q222.8 144.5 220.5 146.0M224.5 143.0Q226.8 144.5 224.5 146.0M228.5 143.0Q230.8 144.5 228.5 146.0M232.5 143.0Q234.8 144.5 232.5 146.0M236.5 143.0Q238.8 144.5 236.5 146.0M240.5 143.0Q242.8 144.5 240.5 146.0M244.5 143.0Q246.8 144.5 244.5 146.0M248.5 143.0Q250.8 144.5 248.5 146.0M252.5 143.0Q254.8 144.5 252.5 146.0M256.5 143.0Q258.8 144.5 256.5 146.0M260.5 143.0Q262.8 144.5 260.5 146.0M264.5 143.0Q266.8 144.5 264.5 146.0M268.5 143.0Q270.8 144.5 268.5 146.0M272.5 143.0Q274.8 144.5 272.5 146.0M276.5 143.0Q278.8 144.5 276.5 146.0M280.5 143.0Q282.8 144.5 280.5 146.0M284.5 143.0Q286.8 144.5 284.5 146.0M288.5 143.0Q290.8 144.5 288.5 146.0M292.5 143.0Q294.8 144.5 292.5 146.0M296.5 143.0Q298.8 144.5 296.5 146.0M300.5 143.0Q302.8 144.5 300.5 146.0M304.5 143.0Q306.8 144.5 304.5 146.0M308.5 143.0Q310.8 144.5 308.5 146.0M312.5 143.0Q314.8 144.5 312.5 146.0M316.5 143.0Q318.8 144.5 316.5 146.0M320.5 143.0Q322.8 144.5 320.5 146.0M324.5 143.0Q326.8 144.5 324.5 146.0M328.5 143.0Q330.8 144.5 328.5 146.0M332.5 143.0Q334.8 144.5 332.5 146.0M336.5 143.0Q338.8 144.5 336.5 146.0M340.5 143.0Q342.8 144.5 340.5 146.0M344.5 143.0Q346.8 144.5 344.5 146.0M348.5 143.0Q350.8 144.5 348.5 146.0M352.5 143.0Q354.8 144.5 352.5 146.0M356.5 143.0Q358.8 144.5 356.5 146.0M360.5 143.0Q362.8 144.5 360.5 146.0M364.5 143.0Q366.8 144.5 364.5 146.0M368.5 143.0Q370.8 144.5 368.5 146.0M372.5 143.0Q374.8 144.5 372.5 146.0M376.5 143.0Q378.8 144.5 376.5 146.0M380.5 143.0Q382.8 144.5 380.5 146.0M384.5 143.0Q386.8 144.5 384.5 146.0M388.5 143.0Q390.8 144.5 388.5 146.0M392.5 143.0Q394.8 144.5 392.5 146.0M396.5 143.0Q398.8 144.5 396.5 146.0M400.5 143.0Q402.8 144.5 400.5 146.0M404.5 143.0Q406.8 144.5 404.5 146.0M408.5 143.0Q410.8 144.5 408.5 146.0M412.5 143.0Q414.8 144.5 412.5 146.0M416.5 143.0Q418.8 144.5 416.5 146.0M420.5 143.0Q422.8 144.5 420.5 146.0M424.5 143.0Q426.8 144.5 424.5 146.0M428.5 143.0Q430.8 144.5 428.5 146.0M432.5 143.0Q434.8 144.5 432.5 146.0M436.5 143.0Q438.8 144.5 436.5 146.0M440.5 143.0Q442.8 144.5 440.5 146.0M444.5 143.0Q446.8 144.5 444.5 146.0M448.5 143.0Q450.8 144.5 448.5 146.0M452.5 143.0Q454.8 144.5 452.5 146.0M456.5 143.0Q458.8 144.5 456.5 146.0M460.5 143.0Q462.8 144.5 460.5 146.0M464.5 143.0Q466.8 144.5 464.5 146.0M468.5 143.0Q470.8 144.5 468.5 146.0M472.5 143.0Q474.8 144.5 472.5 146.0M476.5 143.0Q478.8 144.5 476.5 146.0M480.5 143.0Q482.8 144.5 480.5 146.0M484.5 143.0Q486.8 144.5 484.5 146.0M488.5 143.0Q490.8 144.5 488.5 146.0M492.5 143.0Q494.8 144.5 492.5 146.0M496.5 143.0Q498.8 144.5 496.5 146.0M500.5 143.0Q502.8 144.5 500.5 146.0M504.5 143.0Q506.8 144.5 504.5 146.0M508.5 143.0Q510.8 144.5 508.5 146.0M512.5 143.0Q514.8 144.5 512.5 146.0M516.5 143.0Q518.8 144.5 516.5 146.0M520.5 143.0Q522.8 144.5 520.5 146.0M524.5 143.0Q526.8 144.5 524.5 146.0M528.5 143.0Q530.8 144.5 528.5 146.0M532.5 143.0Q534.8 144.5 532.5 146.0M536.5 143.0Q538.8 144.5 536.5 146.0M540.5 143.0Q542.8 144.5 540.5 146.0M544.5 143.0Q546.8 144.5 544.5 146.0M548.5 143.0Q550.8 144.5 548.5 146.0M552.5 143.0Q554.8 144.5 552.5 146.0M556.5 143.0Q558.8 144.5 556.5 146.0M560.5 143.0Q562.8 144.5 560.5 146.0M564.5 143.0Q566.8 144.5 564.5 146.0M568.5 143.0Q570.8 144.5 568.5 146.0M572.5 143.0Q574.8 144.5 572.5 146.0M576.5 143.0Q578.8 144.5 576.5 146.0M580.5 143.0Q582.8 144.5 580.5 146.0M584.5 143.0Q586.8 144.5 584.5 146.0M588.5 143.0Q590.8 144.5 588.5 146.0M592.5 143.0Q594.8 144.5 592.5 146.0M596.5 143.0Q598.8 144.5 596.5 146.0M600.5 143.0Q602.8 144.5 600.5 146.0M604.5 143.0Q606.8 144.5 604.5 146.0M608.5 143.0Q610.8 144.5 608.5 146.0M612.5 143.0Q614.8 144.5 612.5 146.0M616.5 143.0Q618.8 144.5 616.5 146.0M620.5 143.0Q622.8 144.5 620.5 146.0M624.5 143.0Q626.8 144.5 624.5 146.0M628.5 143.0Q630.8 144.5 628.5 146.0M632.5 143.0Q634.8 144.5 632.5 146.0M636.5 143.0Q638.8 144.5 636.5 146.0M640.5 143.0Q642.8 144.5 640.5 146.0M644.5 143.0Q646.8 144.5 644.5 146.0M648.5 143.0Q650.8 144.5 648.5 146.0M652.5 143.0Q654.8 144.5 652.5 146.0M656.5 143.0Q658.8 144.5 656.5 146.0M660.5 143.0Q662.8 144.5 660.5 146.0" fill="none" stroke="#111" stroke-width="1.3"/><line x1="153" y1="279.8" x2="671" y2="279.8" stroke="#000" stroke-width="1.8" stroke-dasharray="1.3 0.7"/></g><text transform="translate(220.7 60) scale(1.42 1)" font-size="11.6" textLength="54.49" lengthAdjust="spacing" fill="#111" stroke="#111" stroke-width="0.1">Несущая</text><text transform="translate(304.6 60) scale(1.42 1)" font-size="11.6" textLength="33.29" lengthAdjust="spacing" fill="#111" stroke="#111" stroke-width="0.1">стена</text><text transform="translate(357.9 60) scale(1.42 1)" font-size="11.6" textLength="38.65" lengthAdjust="spacing" fill="#111" stroke="#111" stroke-width="0.1">(стена</text><text transform="translate(417 60) scale(1.42 1)" font-size="11.6" textLength="18.44" lengthAdjust="spacing" fill="#111" stroke="#111" stroke-width="0.1">или</text><text transform="translate(448.5 60) scale(1.42 1)" font-size="11.6" textLength="64.63" lengthAdjust="spacing" fill="#111" stroke="#111" stroke-width="0.1">простенок</text><text transform="translate(546.9 60) scale(1.42 1)" font-size="11.6" textLength="48.93" lengthAdjust="spacing" fill="#111" stroke="#111" stroke-width="0.1">здания)</text><rect x="298" y="81.2" width="276" height="7.2" fill="#fff" transform="rotate(-0.25 408 160)"/><text x="299.6" y="87" font-size="7.2" font-weight="700" fill="#111">Слой 3-5см волокнистого материала (минералваты) плотностью 35-70 кг/м<tspan font-size="4" dy="-3">2</tspan></text><polygon points="175.14,177.72 184.82,169.81 243.95,242.15 234.28,250.06" fill="url(#wave)"/><polygon points="173.06,187.18 163.77,194.77 222.9,267.11 232.19,259.51" fill="url(#wave)"/><polygon points="171.16,184.86 177.04,180.04 236.17,252.38 230.29,257.19" fill="url(#dots)" stroke="#111" stroke-width="0.95"/><polygon points="241.99,176.17 251.67,168.26 307.96,237.15 298.28,245.06" fill="url(#wave)"/><polygon points="239.91,185.63 230.61,193.22 286.89,262.11 296.19,254.51" fill="url(#wave)"/><polygon points="238.01,183.3 243.89,178.5 300.17,247.38 294.29,252.19" fill="url(#dots)" stroke="#111" stroke-width="0.95"/><polygon points="309.21,176.5 319.09,168.83 373.22,238.56 363.34,246.22" fill="url(#wave)"/><polygon points="306.89,185.9 297.41,193.26 351.54,262.98 361.02,255.62" fill="url(#wave)"/><polygon points="305.05,183.53 311.05,178.87 365.18,248.59 359.18,253.26" fill="url(#dots)" stroke="#111" stroke-width="0.95"/><polygon points="454.31,177.41 444.72,169.39 387.47,237.86 397.06,245.88" fill="url(#wave)"/><polygon points="456.29,186.89 465.5,194.59 408.24,263.05 399.04,255.36" fill="url(#wave)"/><polygon points="458.22,184.59 452.38,179.71 395.13,248.18 400.96,253.06" fill="url(#dots)" stroke="#111" stroke-width="0.95"/><polygon points="520.88,173.79 510.76,166.46 455.94,242.19 466.07,249.52" fill="url(#wave)"/><polygon points="523.52,183.11 533.24,190.14 478.42,265.87 468.7,258.83" fill="url(#wave)"/><polygon points="525.28,180.68 519.12,176.22 464.31,251.95 470.46,256.4" fill="url(#dots)" stroke="#111" stroke-width="0.95"/><polygon points="584.57,177.63 574.83,169.8 518.61,239.69 528.35,247.53" fill="url(#wave)"/><polygon points="586.73,187.07 596.08,194.59 539.87,264.49 530.51,256.97" fill="url(#wave)"/><polygon points="588.61,184.73 582.69,179.97 526.47,249.87 532.39,254.63" fill="url(#dots)" stroke="#111" stroke-width="0.95"/><polygon points="650.97,176.17 640.97,168.66 586.32,241.36 596.31,248.87" fill="url(#wave)"/><polygon points="653.43,185.53 663.03,192.74 608.37,265.44 598.78,258.23" fill="url(#wave)"/><polygon points="655.24,183.13 649.16,178.57 594.51,251.26 600.59,255.83" fill="url(#dots)" stroke="#111" stroke-width="0.95"/><line x1="93.5" y1="58.6" x2="186" y2="139.5" stroke="#111" stroke-width="0.9"/><circle cx="186" cy="139.3" r="1.3" fill="#000"/><line x1="114.4" y1="105.9" x2="141.4" y2="122.3" stroke="#111" stroke-width="0.9"/><line x1="141.4" y1="122.3" x2="162.3" y2="134.6" stroke="#111" stroke-width="0.9"/><circle cx="162.3" cy="134.4" r="1.5" fill="#000"/><line x1="141.4" y1="122.3" x2="158" y2="140.5" stroke="#111" stroke-width="0.9"/><circle cx="160.8" cy="144.6" r="1.4" fill="#000"/><path d="M110.5 166.4L172 166.8C188 166.8 200 156 211.4 140.8" fill="none" stroke="#111" stroke-width="0.9"/><circle cx="211.4" cy="140.8" r="1.2" fill="#000"/><line x1="123" y1="247.5" x2="192" y2="222.6" stroke="#111" stroke-width="0.9"/><polygon points="194.4,221.8 190.81,224.51 189.9,222" fill="#000"/><line x1="135.9" y1="338.3" x2="224" y2="284.3" stroke="#111" stroke-width="0.9"/><polygon points="226.3,283 223.33,286.38 221.94,284.11" fill="#000"/><line x1="708.75" y1="34.4" x2="637" y2="72.8" stroke="#111" stroke-width="0.9"/><polygon points="634.4,73.9 637.22,71.06 638.33,73.15" fill="#000"/><line x1="718.75" y1="61.9" x2="638.75" y2="90.6" stroke="#111" stroke-width="0.9"/><circle cx="638.75" cy="90.6" r="1.4" fill="#000"/><line x1="718.75" y1="61.9" x2="636.25" y2="97.3" stroke="#111" stroke-width="0.9"/><circle cx="636.25" cy="97.3" r="1.4" fill="#000"/><line x1="718.75" y1="89.2" x2="665" y2="93.1" stroke="#111" stroke-width="0.9"/><polygon points="663,93.3 666.26,92.02 666.41,94.09" fill="#000"/><line x1="705.5" y1="120.8" x2="649" y2="103.8" stroke="#111" stroke-width="0.9"/><circle cx="649" cy="103.8" r="1.4" fill="#000"/><line x1="718.9" y1="162.6" x2="660.5" y2="117.3" stroke="#111" stroke-width="0.9"/><polygon points="659.5,116.6 662.78,117.83 661.51,119.47" fill="#000"/><line x1="702" y1="190" x2="658.5" y2="121" stroke="#111" stroke-width="0.9"/><circle cx="658.5" cy="121" r="1.4" fill="#000"/><line x1="524.8" y1="204.2" x2="539" y2="217" stroke="#111" stroke-width="0.9"/><polygon points="524.8,204.2 528.43,205.88 526.85,207.64" fill="#000"/><polygon points="539,217 535.37,215.32 536.95,213.56" fill="#000"/><text transform="translate(532.8 210.6) rotate(-45)" font-size="9.6" fill="#111" stroke="#111" stroke-width="0.25">10cm</text><line x1="471.8" y1="251" x2="471.8" y2="336" stroke="#333" stroke-width="0.8"/><line x1="527.4" y1="251" x2="527.4" y2="337" stroke="#333" stroke-width="0.8"/><line x1="472" y1="326" x2="527" y2="326" stroke="#111" stroke-width="0.9"/><polygon points="471.8,326 476.1,324.67 476.1,327.33" fill="#000"/><polygon points="527.4,326 523.1,327.33 523.1,324.67" fill="#000"/><text x="486.8" y="334.2" font-size="10" fill="#111">30cm</text><rect x="797" y="356.5" width="2" height="2.2" fill="#888"/><text x="313.4" y="7.4" font-size="9.15" >ДСП толщиной</text><text x="313.4" y="16.9" font-size="9.15" >15-19 мм</text><text x="63.4" y="45.7" font-size="9.15" >ДСП толщиной</text><text x="76.9" y="55.2" font-size="9.15" >15-19 мм</text><text x="37" y="91.8" font-size="9.15" >Слой 3-5 см волок-</text><text x="37.3" y="101.4" font-size="9.15" >нистого материала</text><text x="61.4" y="110.6" font-size="9.15" >плотностью</text><text x="70.1" y="120.3" font-size="9.15" >35-70 кг/м<tspan font-size="4.3" dy="-3.7">3</tspan></text><text x="37.8" y="153.5" font-size="9.15" >“Мёртвый” слой</text><text x="37.8" y="163.3" font-size="9.15" >(гидробит, евро-</text><text x="37.8" y="173.2" font-size="9.15" >рубероид) плот-</text><text x="37.8" y="183" font-size="9.15" >ностью 3-5 кг/м<tspan font-size="4.3" dy="-3.7">2</tspan></text><text x="40.1" y="229.6" font-size="9.15" >ПАНЕЛИ-ЛОВУШКИ</text><text x="50.1" y="238.2" font-size="9.15" >(ВОЛНОВОДЫ)</text><text x="41.8" y="248" font-size="9.15" >(в качестве основы</text><text x="35.4" y="258" font-size="9.15" >панели можно исполь-</text><text x="44.9" y="267.5" font-size="9.15" >зовать и гидробит</text><text x="40.1" y="277" font-size="9.15" >плотностью 10 кг/м<tspan font-size="4.3" dy="-3.7">2</tspan>)</text><text x="37.5" y="347.5" font-size="9.15" >Акустически прозрачная декоративная ткань,</text><text x="65.4" y="357.75" font-size="9.15" >натянутая на деревянные рамки</text><text x="711" y="27.9" font-size="9.15" >Воздушная</text><text x="711" y="37.25" font-size="9.15" >прослойка</text><text x="720" y="52.1" font-size="9.15" >Гипсокартон</text><text x="720" y="61.25" font-size="9.15" >толщиной 13 мм</text><text x="719.4" y="88.1" font-size="9.15" >Гидробит плот-</text><text x="719.4" y="97.5" font-size="9.15" >ностью 3-5 кг/м<tspan font-size="4.3" dy="-3.7">2</tspan></text><text x="709.4" y="113.1" font-size="9.15" >Каркас из брусков</text><text x="707.5" y="122.5" font-size="9.15" >10см х 5см, с внут-</text><text x="706.4" y="131.9" font-size="9.15" >ренним заполнени-</text><text x="710.2" y="141.6" font-size="9.15" >ем минералватой</text><text x="719.7" y="160.8" font-size="9.15" >Гидробит плот-</text><text x="719.7" y="170.7" font-size="9.15" >ностью 3-5 кг/м<tspan font-size="4.3" dy="-3.7">2</tspan></text><text x="680.4" y="200.6" font-size="9.15" >Слой 3-5см волокнистого</text><text x="680.4" y="209.9" font-size="9.15" >материала наподобие</text><text x="680.4" y="219.2" font-size="9.15" >минералваты или войлока</text><text x="680.4" y="228.5" font-size="9.15" >плотностью 30-50 кг/м<tspan font-size="4.3" dy="-3.7">3</tspan></text><text x="548.8" y="315.6" font-size="9.15" >Общая глубина конструкции (от несущей</text><text x="548.8" y="325" font-size="9.15" >стены до декоративной ткани) обычно</text><text x="548.8" y="334.4" font-size="9.15" >составляет от 70см до 1м 20см</text><text x="35.2" y="403" font-size="13.85" fill="#000"><tspan font-weight="700" font-style="italic">Рисунок 5</tspan>. Типичная структура звукопоглощающей системы у задней стены <tspan font-style="italic">(вид сверху)</tspan>.</text>
</svg>
</body></html>
